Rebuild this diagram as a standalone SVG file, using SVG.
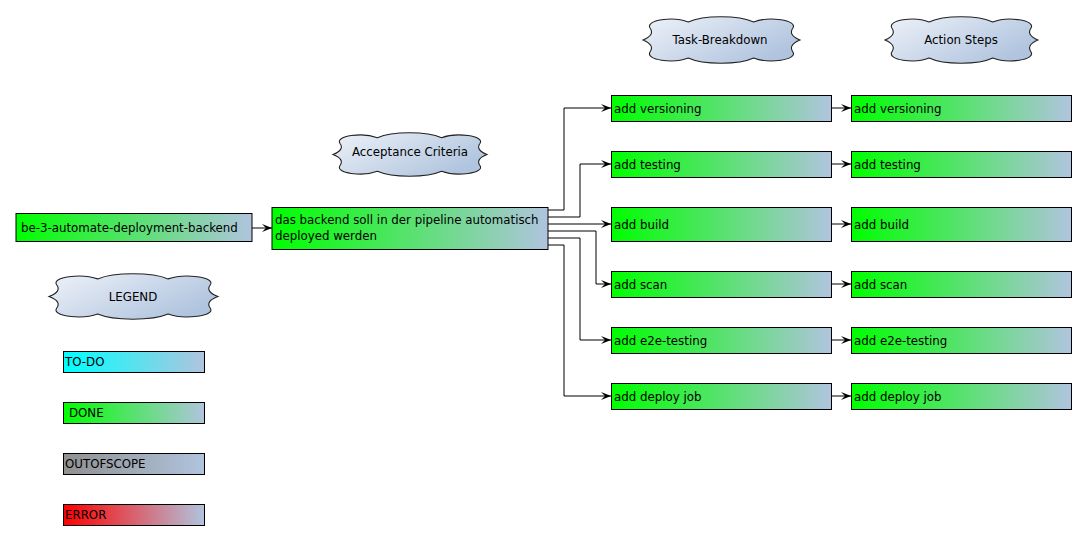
<svg xmlns="http://www.w3.org/2000/svg" width="1087" height="540" viewBox="0 0 1087 540">
<style>
  .box { stroke: #000; stroke-width: 1; }
  .done { fill: url(#gDone); }
  .cloud { fill: url(#gCloud); stroke: #222; stroke-width: 1.1; }
  .t { font-family: "DejaVu Sans", "Liberation Sans", sans-serif; font-size: 11.8px; fill: #000; }
  .ct { font-family: "DejaVu Sans", "Liberation Sans", sans-serif; font-size: 11.8px; fill: #000; text-anchor: middle; }
  .edge { fill: none; stroke: #000; stroke-width: 1; marker-end: url(#arr); }
</style>
<defs>
  <linearGradient id="gDone" x1="0" y1="0" x2="1" y2="0">
    <stop offset="0" stop-color="#00FF00"/>
    <stop offset="1" stop-color="#B0C4DE"/>
  </linearGradient>
  <linearGradient id="gTodo" x1="0" y1="0" x2="1" y2="0">
    <stop offset="0" stop-color="#00FFFF"/>
    <stop offset="1" stop-color="#B0C4DE"/>
  </linearGradient>
  <linearGradient id="gOut" x1="0" y1="0" x2="1" y2="0">
    <stop offset="0" stop-color="#909090"/>
    <stop offset="1" stop-color="#B0C4DE"/>
  </linearGradient>
  <linearGradient id="gErr" x1="0" y1="0" x2="1" y2="0">
    <stop offset="0" stop-color="#FF0000"/>
    <stop offset="1" stop-color="#B0C4DE"/>
  </linearGradient>
  <linearGradient id="gCloud" x1="0" y1="0" x2="1" y2="0.6">
    <stop offset="0" stop-color="#EEF2F9"/>
    <stop offset="1" stop-color="#B0C4DE"/>
  </linearGradient>
  <marker id="arr" viewBox="0 0 10 8" refX="10" refY="4" markerWidth="10" markerHeight="8" markerUnits="userSpaceOnUse" orient="auto">
    <path d="M0,0 L10,4 L0,8 L4,4 Z" fill="#000"/>
  </marker>
  <path id="cloudShape" vector-effect="non-scaling-stroke" d="M0,23 Q12,18 7,11 C2,3 30,-1 45,5 C60,-2 95,-2 110,5 C125,-1 154,3 149,11 Q144,18 156,23 Q144,28 149,35 C154,43 125,47 110,41 C95,48 60,48 45,41 C30,47 2,43 7,35 Q12,28 0,23 Z"/>
</defs>

<g id="cloud-acceptance">
  <use href="#cloudShape" class="cloud" transform="translate(333,133) scale(0.987,0.935)"/>
  <text class="ct" x="410" y="156">Acceptance Criteria</text>
</g>
<g id="cloud-task">
  <use href="#cloudShape" class="cloud" transform="translate(643,17) scale(1.006,1)"/>
  <text class="ct" x="720" y="44">Task-Breakdown</text>
</g>
<g id="cloud-action">
  <use href="#cloudShape" class="cloud" transform="translate(885,17) scale(0.98,1)"/>
  <text class="ct" x="961" y="44">Action Steps</text>
</g>
<g id="cloud-legend">
  <use href="#cloudShape" class="cloud" transform="translate(49,274) scale(1.083,0.978)"/>
  <text class="ct" x="133" y="301">LEGEND</text>
</g>

<g id="connectors">
  <path class="edge" d="M252,228 L272,228"/>
  <path class="edge" d="M548,210 L564,210 L564,108 L611,108"/>
  <path class="edge" d="M548,217 L580,217 L580,164 L611,164"/>
  <path class="edge" d="M548,224 L611,224"/>
  <path class="edge" d="M548,231 L596,231 L596,284 L611,284"/>
  <path class="edge" d="M548,238 L580,238 L580,340 L611,340"/>
  <path class="edge" d="M548,245 L564,245 L564,396 L611,396"/>
  <path class="edge" d="M831,108 L851,108"/>
  <path class="edge" d="M831,164 L851,164"/>
  <path class="edge" d="M831,224 L851,224"/>
  <path class="edge" d="M831,284 L851,284"/>
  <path class="edge" d="M831,340 L851,340"/>
  <path class="edge" d="M831,396 L851,396"/>
</g>

<g id="root">
  <rect class="box done" x="16" y="213.5" width="236" height="28"/>
  <text class="t" x="21" y="232">be-3-automate-deployment-backend</text>
</g>
<g id="acceptance">
  <rect class="box done" x="272" y="207.5" width="276" height="42"/>
  <text class="t" x="275" y="224">das backend soll in der pipeline automatisch</text>
  <text class="t" x="275" y="240">deployed werden</text>
</g>

<g id="task-versioning">
  <rect class="box done" x="611.5" y="95.5" width="220" height="26"/>
  <text class="t" x="614" y="112.5">add versioning</text>
</g>
<g id="task-testing">
  <rect class="box done" x="611.5" y="151.5" width="220" height="26"/>
  <text class="t" x="614" y="168.5">add testing</text>
</g>
<g id="task-build">
  <rect class="box done" x="611.5" y="207.5" width="220" height="34"/>
  <text class="t" x="614" y="228.5">add build</text>
</g>
<g id="task-scan">
  <rect class="box done" x="611.5" y="271.5" width="220" height="26"/>
  <text class="t" x="614" y="288.5">add scan</text>
</g>
<g id="task-e2e">
  <rect class="box done" x="611.5" y="327.5" width="220" height="26"/>
  <text class="t" x="614" y="344.5">add e2e-testing</text>
</g>
<g id="task-deploy">
  <rect class="box done" x="611.5" y="383.5" width="220" height="26"/>
  <text class="t" x="614" y="400.5">add deploy job</text>
</g>

<g id="action-versioning">
  <rect class="box done" x="851.5" y="95.5" width="220" height="26"/>
  <text class="t" x="854" y="112.5">add versioning</text>
</g>
<g id="action-testing">
  <rect class="box done" x="851.5" y="151.5" width="220" height="26"/>
  <text class="t" x="854" y="168.5">add testing</text>
</g>
<g id="action-build">
  <rect class="box done" x="851.5" y="207.5" width="220" height="34"/>
  <text class="t" x="854" y="228.5">add build</text>
</g>
<g id="action-scan">
  <rect class="box done" x="851.5" y="271.5" width="220" height="26"/>
  <text class="t" x="854" y="288.5">add scan</text>
</g>
<g id="action-e2e">
  <rect class="box done" x="851.5" y="327.5" width="220" height="26"/>
  <text class="t" x="854" y="344.5">add e2e-testing</text>
</g>
<g id="action-deploy">
  <rect class="box done" x="851.5" y="383.5" width="220" height="26"/>
  <text class="t" x="854" y="400.5">add deploy job</text>
</g>

<g id="legend-todo">
  <rect class="box" fill="url(#gTodo)" x="63.5" y="351.5" width="141" height="21"/>
  <text class="t" x="65" y="366">TO-DO</text>
</g>
<g id="legend-done">
  <rect class="box" fill="url(#gDone)" x="63.5" y="402.5" width="141" height="21"/>
  <text class="t" x="69" y="417">DONE</text>
</g>
<g id="legend-outofscope">
  <rect class="box" fill="url(#gOut)" x="63.5" y="453.5" width="141" height="21"/>
  <text class="t" x="65" y="468">OUTOFSCOPE</text>
</g>
<g id="legend-error">
  <rect class="box" fill="url(#gErr)" x="63.5" y="504.5" width="141" height="21"/>
  <text class="t" x="65" y="519">ERROR</text>
</g>
</svg>
